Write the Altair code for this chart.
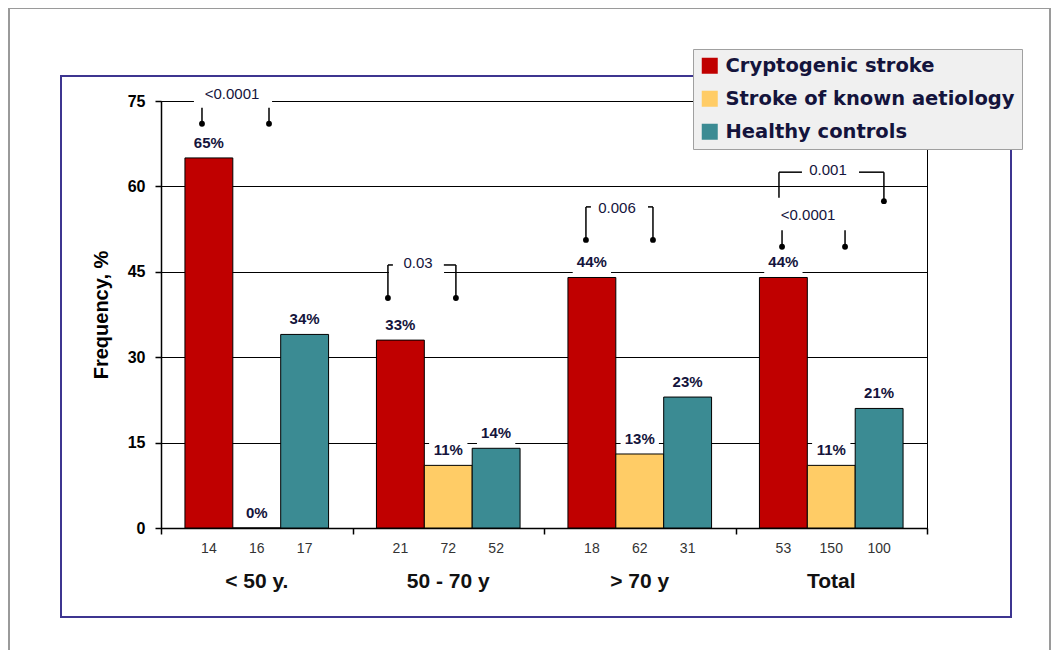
import altair as alt
import pandas as pd

# ---------------- data ----------------
groups = ["< 50 y.", "50 - 70 y", "> 70 y", "Total"]
series = ["Cryptogenic stroke", "Stroke of known aetiology", "Healthy controls"]
cryptogenic = [65, 33, 44, 44]
known_aetiology = [0, 11, 13, 11]
healthy = [34, 14, 23, 21]
n_cryptogenic = [14, 21, 18, 53]
n_known = [16, 72, 62, 150]
n_healthy = [17, 52, 31, 100]
colors = ["#c00000", "#ffcc66", "#3b8b93"]
y_ticks = [0, 15, 30, 45, 60, 75]

# significance annotations (p-values and bracket heights, in %)
p_labels = ["<0.0001", "0.03", "0.006", "0.001", "<0.0001"]
p_group = [0, 1, 2, 3, 3]
p_label_y = [76.2, 46.5, 56.2, 62.9, 55.0]
p_top = [73.8, 46.2, 56.4, 62.5, 52.3]
p_left_end = [71.0, 40.4, 50.6, 58.0, 49.4]
p_right_end = [71.0, 40.4, 50.6, 57.4, 49.4]
p_left_dot = [True, True, True, False, True]

# ---------------- layout (group units) ----------------
PAD = 0.125
BAND = 0.25
stem_left = [0.214, 0.185, 0.219, 0.227, 0.243]
stem_right = [0.564, 0.540, 0.569, 0.775, 0.572]
label_x = [0.371, 0.342, 0.381, 0.483, 0.379]
hook_left = [0.0, 0.026, 0.026, 0.12, 0.0]
hook_right = [0.0, 0.063, 0.026, 0.13, 0.0]
# white boxes hiding the gridline behind a p-label: (x from, x to, gridline)
p_box = [(0.172, 0.580, 75), (0.19, 0.478, 45), None, None, None]

INK = "#14143c"
FONT = "Liberation Sans"

values_by_series = [cryptogenic, known_aetiology, healthy]
n_by_series = [n_cryptogenic, n_known, n_healthy]

rows = []
for i, g in enumerate(groups):
    for k, s in enumerate(series):
        x0 = i + PAD + k * BAND
        v = values_by_series[k][i]
        rows.append(dict(group=g, series=s, x0=x0, x1=x0 + BAND, xc=x0 + BAND / 2,
                         value=v, base=0, n=str(n_by_series[k][i]),
                         label=f"{v}%", ly=v + 2.7, by1=v + 0.6, by2=v + 4.3,
                         bx1=x0 + BAND / 2 - 0.1, bx2=x0 + BAND / 2 + 0.1))
bars_df = pd.DataFrame(rows)

grp_df = pd.DataFrame(dict(group=groups, xc=[i + 0.5 for i in range(len(groups))]))

seg, dots, labs, boxes = [], [], [], []
for j in range(len(p_labels)):
    gi = p_group[j]
    xl = gi + stem_left[j]
    xr = gi + stem_right[j]
    seg.append(dict(x=xl, x2=xl, y=p_top[j], y2=p_left_end[j]))
    seg.append(dict(x=xr, x2=xr, y=p_top[j], y2=p_right_end[j]))
    if hook_left[j] > 0:
        seg.append(dict(x=xl, x2=xl + hook_left[j], y=p_top[j], y2=p_top[j]))
    if hook_right[j] > 0:
        seg.append(dict(x=xr - hook_right[j], x2=xr, y=p_top[j], y2=p_top[j]))
    if p_left_dot[j]:
        dots.append(dict(x=xl, y=p_left_end[j]))
    dots.append(dict(x=xr, y=p_right_end[j]))
    labs.append(dict(x=gi + label_x[j], y=p_label_y[j], text=p_labels[j]))
    if p_box[j] is not None:
        a, b, gl = p_box[j]
        boxes.append(dict(x=gi + a, x2=gi + b, y=gl - 0.7, y2=gl + 0.7))
seg_df = pd.DataFrame(seg)
dot_df = pd.DataFrame(dots)
lab_df = pd.DataFrame(labs)
box_df = pd.DataFrame(boxes)

W, H = 766, 427
xs = alt.Scale(domain=[0, 4], nice=False, zero=False)
ys = alt.Scale(domain=[0, 75], nice=False)

x_axis = alt.Axis(values=[0, 1, 2, 3, 4], labels=False, grid=False, tickSize=6,
                  tickColor="black", tickWidth=1.5, domainColor="black", domainWidth=1.5)
y_axis = alt.Axis(values=y_ticks, grid=True, gridColor="black", gridWidth=1, gridOpacity=1,
                  tickColor="black", tickSize=6, tickWidth=1.5, domainColor="black",
                  domainWidth=1.5, labelFont=FONT, labelFontWeight="bold",
                  labelFontSize=16, labelColor="black", labelPadding=10,
                  titleFont=FONT, titleFontSize=20, titleFontWeight="bold",
                  titleColor="black", titlePadding=16)


def X(field):
    return alt.X(field, type="quantitative", scale=xs, axis=x_axis, title=None)


def Y(field):
    return alt.Y(field, type="quantitative", scale=ys, axis=y_axis, title="Frequency, %")


one = pd.DataFrame({"a": [0]})

# ---------------- bars ----------------
bars = alt.Chart(bars_df).mark_rect(stroke="black", strokeWidth=1).encode(
    x=X("x0"), x2="x1:Q",
    y=Y("value"), y2="base:Q",
    color=alt.Color("series:N", scale=alt.Scale(domain=series, range=colors),
                    legend=alt.Legend(orient="none", legendX=532, legendY=-52, title=None,
                                      fillColor="#f0f0f0", strokeColor="#a0a0a0", padding=7,
                                      symbolType="square", symbolSize=256, symbolStrokeWidth=0,
                                      labelFont="DejaVu Sans", labelFontSize=19.5,
                                      labelFontWeight="bold", labelColor=INK, rowPadding=12,
                                      labelOffset=6, labelLimit=500)),
)

# ---------------- frames ----------------
gray_frame = alt.Chart(one).mark_rect(fillOpacity=0, stroke="#9a9a9a", strokeWidth=2).encode(
    x=alt.value(-152), x2=alt.value(889), y=alt.value(-93), y2=alt.value(700))
blue_frame = alt.Chart(one).mark_rect(fillOpacity=0, stroke="#3d3590", strokeWidth=2).encode(
    x=alt.value(-100), x2=alt.value(850), y=alt.value(-25), y2=alt.value(516))

val_boxes = alt.Chart(bars_df).mark_rect(fill="white").encode(
    x=X("bx1"), x2="bx2:Q", y=Y("by1"), y2="by2:Q")
val_labels = alt.Chart(bars_df).mark_text(font=FONT, fontSize=15, fontWeight="bold",
                                          color=INK, baseline="middle").encode(
    x=X("xc"), y=Y("ly"), text="label:N")

# ---------------- significance brackets ----------------
p_boxes = alt.Chart(box_df).mark_rect(fill="white").encode(
    x=X("x"), x2="x2:Q", y=Y("y"), y2="y2:Q")
p_rules = alt.Chart(seg_df).mark_rule(color="black", strokeWidth=1.5).encode(
    x=X("x"), x2="x2:Q", y=Y("y"), y2="y2:Q")
p_dots = alt.Chart(dot_df).mark_point(filled=True, color="black", opacity=1, size=34).encode(
    x=X("x"), y=Y("y"))
p_text = alt.Chart(lab_df).mark_text(font=FONT, fontSize=15, color=INK, baseline="middle").encode(
    x=X("x"), y=Y("y"), text="text:N")

# ---------------- category labels ----------------
n_text = alt.Chart(bars_df).mark_text(font=FONT, fontSize=14, color="#333333",
                                      baseline="middle").encode(
    x=X("xc"), y=alt.value(H + 21), text="n:N")
g_text = alt.Chart(grp_df).mark_text(font=FONT, fontSize=21, fontWeight="bold", color="#111111",
                                     baseline="middle").encode(
    x=X("xc"), y=alt.value(H + 54), text="group:N")

chart = alt.layer(
    bars, gray_frame, blue_frame, val_boxes, val_labels,
    p_boxes, p_rules, p_dots, p_text, n_text, g_text
).properties(
    width=W, height=H,
    autosize=alt.AutoSizeParams(type="none"),
    padding={"left": 153, "top": 93, "right": 124, "bottom": 122},
    background="white",
).configure_view(stroke="black", strokeWidth=1)

chart.save("out.html", embed_options={"renderer": "svg", "actions": False})
